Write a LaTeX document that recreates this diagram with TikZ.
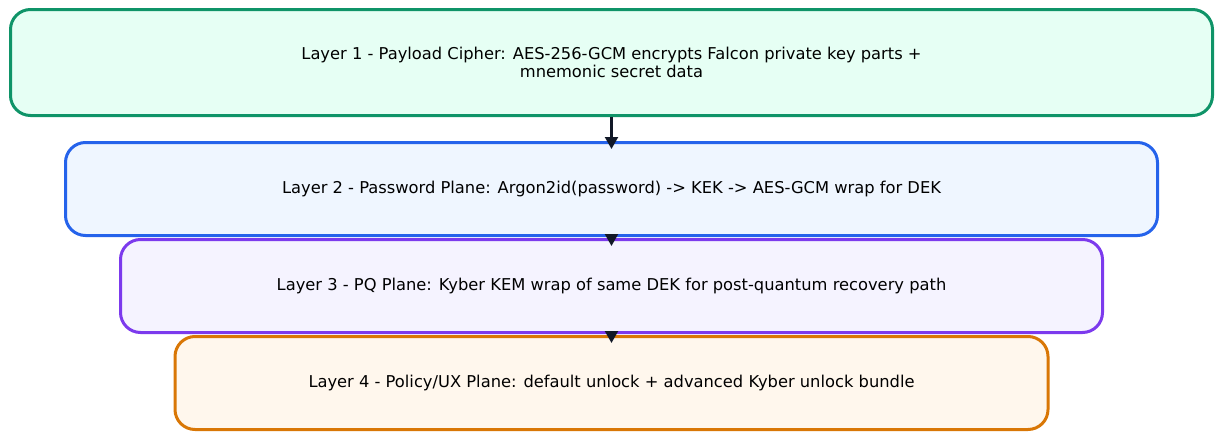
\documentclass[tikz,border=0pt]{standalone}
\usepackage{fontspec}
\setmainfont{DejaVu Sans}
\usepackage{xcolor}
\usetikzlibrary{arrows.meta,positioning}

\definecolor{payloadline}{HTML}{0F9468}
\definecolor{payloadfill}{HTML}{E6FFF4}
\definecolor{pwdline}{HTML}{2563EB}
\definecolor{pwdfill}{HTML}{EFF6FF}
\definecolor{pqline}{HTML}{7C3AED}
\definecolor{pqfill}{HTML}{F5F3FF}
\definecolor{uxline}{HTML}{D97706}
\definecolor{uxfill}{HTML}{FFF7ED}
\definecolor{arrowink}{HTML}{111827}

\begin{document}
\begin{tikzpicture}[
  x=1pt, y=1pt,
  font=\fontsize{16.3}{18.5}\selectfont,
  node distance=1pt,
  layer/.style={draw, line width=3pt, rounded corners=20pt, align=center, minimum height=93pt},
  flow/.style={-{Triangle[length=12pt, width=13pt]}, line width=2.2pt, arrowink}
]
  \useasboundingbox (0,0) rectangle (1215,-431);

  % stack of layers, top to bottom
  \node[layer, draw=payloadline, fill=payloadfill, minimum width=1202pt, minimum height=106pt] (payload) at (611.5,-62.5)
    {Layer 1 - Payload Cipher: AES-256-GCM encrypts Falcon private key parts +\\mnemonic secret data};
  \node[layer, draw=pwdline, fill=pwdfill, minimum width=1092pt, below=24pt of payload] (pwd)
    {Layer 2 - Password Plane: Argon2id(password) -> KEK -> AES-GCM wrap for DEK};
  \node[layer, draw=pqline, fill=pqfill, minimum width=982pt, below=of pwd] (pq)
    {Layer 3 - PQ Plane: Kyber KEM wrap of same DEK for post-quantum recovery path};
  \node[layer, draw=uxline, fill=uxfill, minimum width=873pt, below=of pq] (ux)
    {Layer 4 - Policy/UX Plane: default unlock + advanced Kyber unlock bundle};

  % arrows between layers
  \draw[flow] (payload.south) -- ([yshift=-8pt]pwd.north);
  \draw[flow] (pwd.south) -- ([yshift=-8pt]pq.north);
  \draw[flow] (pq.south) -- ([yshift=-8pt]ux.north);
\end{tikzpicture}
\end{document}
